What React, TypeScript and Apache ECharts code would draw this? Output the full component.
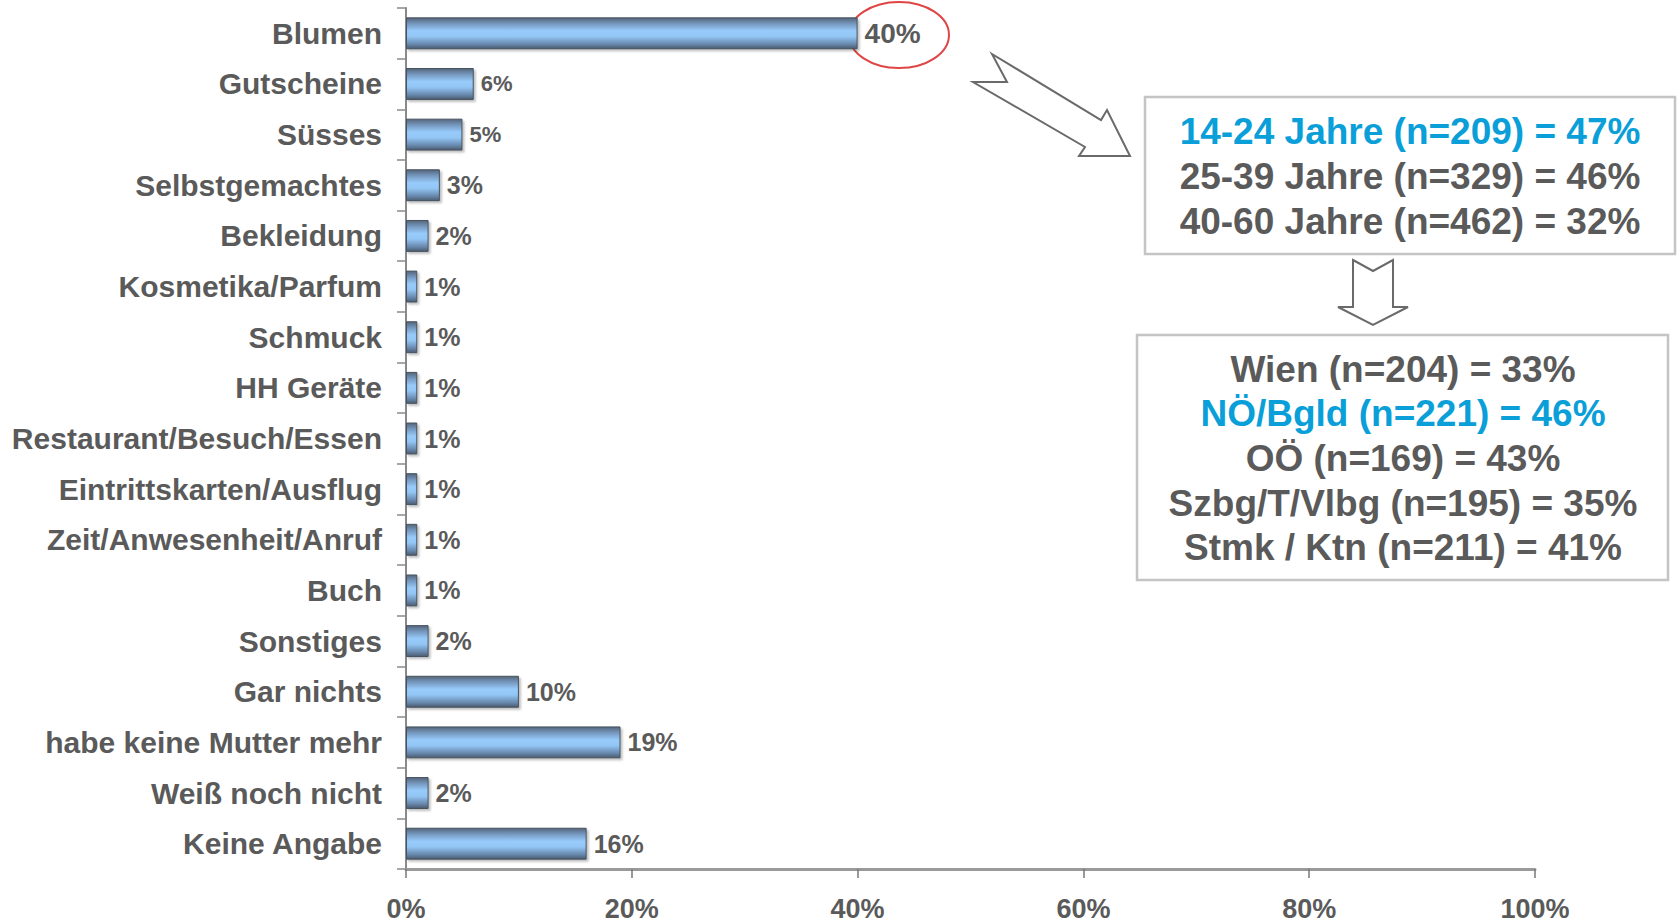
import React, { useEffect, useRef } from "react";
import * as echarts from "echarts";

const categories = [
  "Blumen",
  "Gutscheine",
  "Süsses",
  "Selbstgemachtes",
  "Bekleidung",
  "Kosmetika/Parfum",
  "Schmuck",
  "HH Geräte",
  "Restaurant/Besuch/Essen",
  "Eintrittskarten/Ausflug",
  "Zeit/Anwesenheit/Anruf",
  "Buch",
  "Sonstiges",
  "Gar nichts",
  "habe keine Mutter mehr",
  "Weiß noch nicht",
  "Keine Angabe",
];
const values = [40, 6, 5, 3, 2, 1, 1, 1, 1, 1, 1, 1, 2, 10, 19, 2, 16];
const xTicks = [0, 20, 40, 60, 80, 100];

const ageLines = [
  "14-24 Jahre (n=209) = 47%",
  "25-39 Jahre (n=329) = 46%",
  "40-60 Jahre (n=462) = 32%",
];
const ageHighlight = 0;
const regionLines = [
  "Wien (n=204) = 33%",
  "NÖ/Bgld (n=221) = 46%",
  "OÖ (n=169) = 43%",
  "Szbg/T/Vlbg (n=195) = 35%",
  "Stmk / Ktn (n=211) = 41%",
];
const regionHighlight = 1;

const FONT = "'Liberation Sans', Arial, sans-serif";
const GRAY = "#5a5a5a";
const BLUE = "#0a9fd8";

export default function App() {
  const ref = useRef<HTMLDivElement>(null);
  useEffect(() => {
    if (!ref.current) return;
    const chart = echarts.init(ref.current, null, { renderer: "svg" });
    const labelSize = (v: number, i: number) => (i === 0 ? 28 : v === 5 || v === 6 ? 22 : 25);
    const barGradient = new echarts.graphic.LinearGradient(0, 0, 0, 1, [
      { offset: 0, color: "#55657a" },
      { offset: 0.18, color: "#7495bb" },
      { offset: 0.42, color: "#97cbfb" },
      { offset: 0.6, color: "#93c6f5" },
      { offset: 0.85, color: "#6888ad" },
      { offset: 1, color: "#4b5b6e" },
    ]);

    const textEl = (t: string, x: number, y: number, color: string) => ({
      type: "text",
      x,
      y,
      style: {
        text: t,
        fill: color,
        font: `bold 37px ${FONT}`,
        textAlign: "center",
        textVerticalAlign: "middle",
      },
    });

    const graphics: any[] = [
      {
        type: "ellipse",
        shape: { cx: 899, cy: 35, rx: 50, ry: 33 },
        style: { fill: "none", stroke: "#e04545", lineWidth: 2 },
      },
      {
        type: "polygon",
        shape: {
          points: [
            [992, 54],
            [1101, 120],
            [1107, 110],
            [1130, 156],
            [1079, 156],
            [1085, 147],
            [973, 82],
            [1007, 82],
          ],
        },
        style: { fill: "#fff", stroke: "#6a6a6a", lineWidth: 2 },
      },
      {
        type: "rect",
        shape: { x: 1145, y: 97, width: 530, height: 157 },
        style: { fill: "#fff", stroke: "#c4c4c4", lineWidth: 2.5 },
      },
      {
        type: "polygon",
        shape: {
          points: [
            [1353, 260],
            [1373, 271],
            [1393, 260],
            [1393, 307],
            [1408, 307],
            [1373, 325],
            [1338, 307],
            [1353, 307],
          ],
        },
        style: { fill: "#fff", stroke: "#6a6a6a", lineWidth: 2 },
      },
      {
        type: "rect",
        shape: { x: 1137, y: 335, width: 531, height: 245 },
        style: { fill: "#fff", stroke: "#c4c4c4", lineWidth: 2.5 },
      },
    ];
    ageLines.forEach((t, i) =>
      graphics.push(textEl(t, 1410, 131 + i * 45, i === ageHighlight ? BLUE : GRAY))
    );
    regionLines.forEach((t, i) =>
      graphics.push(textEl(t, 1403, 369 + i * 44.7, i === regionHighlight ? BLUE : GRAY))
    );

    chart.setOption({
      animation: false,
      backgroundColor: "#ffffff",
      grid: { left: 406, right: 144, top: 8, bottom: 55, containLabel: false },
      xAxis: {
        type: "value",
        min: 0,
        max: 100,
        interval: 20,
        splitLine: { show: false },
        axisLine: { show: true, lineStyle: { color: "#9a9a9a", width: 3 } },
        axisTick: { show: true, length: 9, lineStyle: { color: "#777", width: 1.5 } },
        axisLabel: {
          formatter: (v: number) => (xTicks.includes(v) ? `${v}%` : ""),
          margin: 26,
          color: GRAY,
          fontFamily: FONT,
          fontWeight: "bold",
          fontSize: 27,
        },
      },
      yAxis: {
        type: "category",
        data: categories,
        inverse: true,
        axisLine: { show: true, lineStyle: { color: "#8a8a8a", width: 2 } },
        axisTick: { show: true, length: 9, alignWithLabel: false, lineStyle: { color: "#8a8a8a", width: 1.5 } },
        axisLabel: {
          margin: 24,
          color: GRAY,
          fontFamily: FONT,
          fontWeight: "bold",
          fontSize: 30,
        },
      },
      series: [
        {
          type: "bar",
          barWidth: "63%",
          data: values.map((v, i) => ({
            value: v,
            label: { fontSize: labelSize(v, i) },
          })),
          itemStyle: {
            color: barGradient,
            borderColor: "#45525f",
            borderWidth: 1,
            shadowColor: "rgba(0,0,0,0.25)",
            shadowOffsetX: 2,
            shadowOffsetY: 2,
            shadowBlur: 2,
          },
          label: {
            show: true,
            position: "right",
            distance: 7,
            formatter: "{c}%",
            color: GRAY,
            fontFamily: FONT,
            fontWeight: "bold",
          },
        },
      ],
      graphic: graphics,
    });
    return () => chart.dispose();
  }, []);

  return (
    <div
      ref={ref}
      style={{ position: "fixed", left: 0, top: 0, width: 1679, height: 924, background: "#fff" }}
    />
  );
}
